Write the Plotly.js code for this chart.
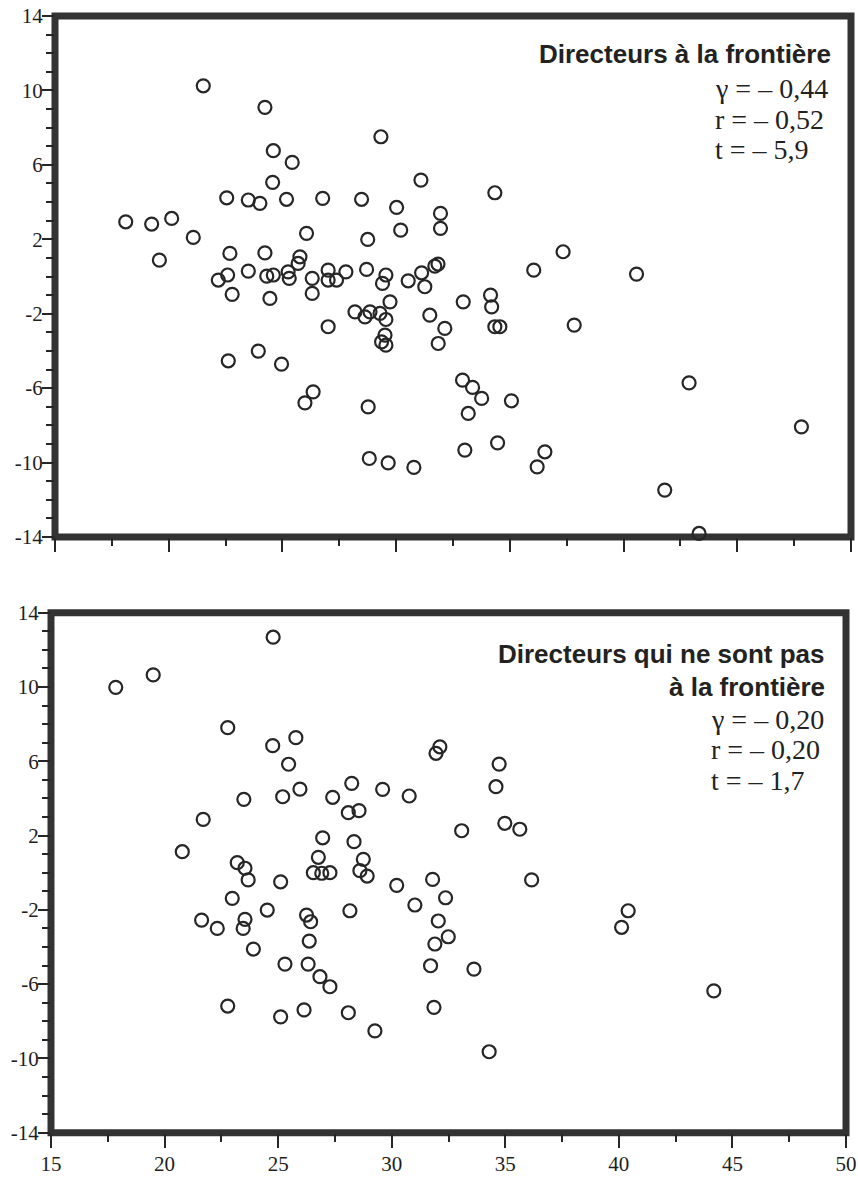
<!DOCTYPE html>
<html><head><meta charset="utf-8">
<script src="https://cdn.plot.ly/plotly-3.0.1.min.js"></script>
<style>html,body{margin:0;padding:0;background:#fff}#chart{width:858px;height:1185px}</style>
</head><body><div id="chart"></div>
<script>
// Directeurs à la frontière
const topX = [21.52,24.23,24.60,25.43,29.33,24.57,22.55,23.50,24.01,25.18,26.77,28.48,30.02,31.09,31.95,31.95,34.34,18.11,19.25,20.13,21.08,19.59,22.69,24.23,26.06,30.20,28.75,37.34,36.05,40.57,37.83,42.88,47.82,41.81,43.32,22.18,22.59,23.50,24.31,24.60,25.25,25.30,22.79,24.45,22.62,23.94,24.96,25.77,25.69,26.31,26.31,27.01,27.01,27.38,27.79,28.70,29.55,29.40,30.53,31.12,31.26,31.70,31.84,32.95,34.15,34.20,34.34,34.56,28.19,28.63,28.85,29.29,29.55,29.73,31.48,32.14,31.85,29.51,29.36,29.55,27.01,26.35,25.99,28.77,32.92,33.36,33.76,35.07,33.17,34.46,33.02,36.54,36.20,28.82,29.65,30.78];
const topY = [10.25,9.09,6.76,6.13,7.51,5.06,4.23,4.11,3.93,4.15,4.20,4.15,3.71,5.18,3.39,2.59,4.50,2.94,2.82,3.12,2.10,0.88,1.24,1.27,2.32,2.49,1.99,1.33,0.34,0.13,-2.61,-5.72,-8.08,-11.48,-13.81,-0.19,0.08,0.29,0.02,0.08,0.25,-0.10,-0.96,-1.18,-4.53,-4.01,-4.71,1.06,0.70,-0.10,-0.91,0.34,-0.19,-0.19,0.25,0.38,0.08,-0.37,-0.23,0.20,-0.55,0.56,0.67,-1.36,-1.00,-1.63,-2.70,-2.70,-1.90,-2.17,-1.90,-1.98,-2.31,-1.36,-2.08,-2.79,-3.60,-3.15,-3.51,-3.69,-2.70,-6.20,-6.79,-7.01,-5.57,-5.96,-6.55,-6.68,-7.36,-8.94,-9.33,-9.42,-10.23,-9.78,-10.02,-10.26];
// Directeurs qui ne sont pas à la frontière
const bottomX = [24.78,19.50,17.85,22.78,24.76,25.78,25.46,25.96,25.20,23.49,21.70,20.78,23.20,23.54,23.68,25.11,32.12,31.95,34.73,34.59,28.24,29.60,30.77,27.40,28.09,28.56,26.96,28.34,33.08,34.98,35.64,26.77,26.55,26.92,27.28,28.75,28.60,28.92,30.22,31.80,36.16,22.98,24.52,21.63,22.32,23.54,23.46,23.91,25.30,22.78,25.11,32.37,31.02,28.16,26.25,26.43,32.05,32.49,31.90,26.37,26.32,31.71,33.62,26.84,27.28,26.14,28.09,31.86,29.26,34.29,40.41,40.12,44.18];
const bottomY = [12.68,10.65,9.98,7.81,6.84,7.27,5.84,4.50,4.09,3.95,2.87,1.13,0.54,0.24,-0.39,-0.49,6.78,6.43,5.85,4.63,4.81,4.49,4.13,4.06,3.23,3.34,1.88,1.67,2.26,2.66,2.34,0.83,0.00,-0.03,0.00,0.72,0.11,-0.18,-0.68,-0.36,-0.39,-1.38,-2.01,-2.55,-3.00,-2.51,-3.00,-4.11,-4.92,-7.18,-7.76,-1.35,-1.74,-2.05,-2.28,-2.64,-2.60,-3.45,-3.84,-3.68,-4.92,-5.01,-5.19,-5.60,-6.14,-7.39,-7.54,-7.25,-8.52,-9.64,-2.05,-2.94,-6.36];

const xTickVals = [15,20,25,30,35,40,45,50];
const xTickText = ['15','20','25','30','35','40','45','50'];
const yTickVals = [-14,-10,-6,-2,2,6,10,14];
const yTickText = ['-14','-10','-6','-2','2','6','10','14'];

const topTitle = 'Directeurs à la frontière';
const topStats = ['γ = – 0,44','r = – 0,52','t = – 5,9'];
const bottomTitle = ['Directeurs qui ne sont pas','à la frontière'];
const bottomStats = ['γ = – 0,20','r = – 0,20','t = – 1,7'];

const W = 858, H = 1185;
const fx = p => p / W;
const fy = p => 1 - p / H;
const ink = '#262626';
const serifFamily = 'Liberation Serif';

const marker = {symbol:'circle-open', size:13, color:ink, line:{width:2.2, color:ink}};
const traces = [
  {x: topX, y: topY, xaxis:'x', yaxis:'y', type:'scatter', mode:'markers', marker: marker, cliponaxis:false, hoverinfo:'skip'},
  {x: bottomX, y: bottomY, xaxis:'x2', yaxis:'y2', type:'scatter', mode:'markers', marker: marker, cliponaxis:false, hoverinfo:'skip'}
];

function tickFont(){ return {family: serifFamily, size:21, color:'#1e1e1e'}; }
function xAxis(domain, labels, anchor){
  return {domain: domain, anchor: anchor, range:[15,50], showgrid:false, zeroline:false, showline:false,
    tickmode:'array', tickvals:xTickVals, ticktext:xTickText, showticklabels:labels,
    ticks:'outside', ticklen:14, tickwidth:2, tickcolor:ink, tickfont:tickFont(), ticklabelstandoff:-2,
    minor:{tickmode:'linear', tick0:15, dtick:2.5, ticks:'outside', ticklen:8, tickwidth:2, tickcolor:ink, showgrid:false}};
}
function yAxis(domain, anchor){
  return {domain: domain, anchor: anchor, range:[-14,14], showgrid:false, zeroline:false, showline:false,
    tickmode:'array', tickvals:yTickVals, ticktext:yTickText,
    ticks:'outside', ticklen:12, tickwidth:2, tickcolor:ink, tickfont:tickFont(), ticklabelstandoff:-5,
    minor:{tickmode:'linear', tick0:-14, dtick:1, ticks:'outside', ticklen:8, tickwidth:2, tickcolor:ink, showgrid:false}};
}

const frame = (xr, yr) => ({type:'rect', xref: xr + ' domain', yref: yr + ' domain', x0:0, x1:1, y0:0, y1:1,
  line:{color:'#333', width:7}, fillcolor:'rgba(0,0,0,0)', layer:'below'});

const sans = {family:'Liberation Sans', size:26, color:'#222'};
const serif = {family: serifFamily, size:28, color:'#222'};
const ann = [];
function addText(text, x, y, anchor, font){
  ann.push({xref:'paper', yref:'paper', x: fx(x), y: fy(y), xanchor: anchor, yanchor:'middle', text: text, showarrow:false, font: font});
}
addText('<b>' + topTitle + '</b>', 833, 54, 'right', sans);
topStats.forEach((s, i) => addText(s, 713, 89 + i * 30, 'left', serif));
bottomTitle.forEach((s, i) => addText('<b>' + s + '</b>', 827, 654 + i * 33, 'right', sans));
bottomStats.forEach((s, i) => addText(s, 709, 719 + i * 30.5, 'left', serif));

const layout = {
  width: W, height: H, margin:{l:0, r:0, t:0, b:0}, paper_bgcolor:'#fff', plot_bgcolor:'rgba(0,0,0,0)',
  font: {family: serifFamily, size:21, color:'#222'},
  showlegend:false,
  xaxis: xAxis([fx(55), fx(851)], false, 'y'),
  yaxis: yAxis([fy(537), fy(16)], 'x'),
  xaxis2: xAxis([fx(51), fx(846)], true, 'y2'),
  yaxis2: yAxis([fy(1132.7), fy(612.7)], 'x2'),
  shapes: [frame('x','y'), frame('x2','y2')],
  annotations: ann
};
Plotly.newPlot('chart', traces, layout, {staticPlot:true, displayModeBar:false});
</script></body></html>
